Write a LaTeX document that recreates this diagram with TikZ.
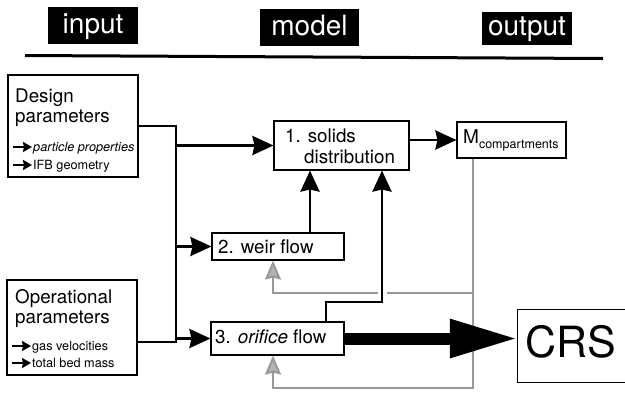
\documentclass[tikz,border=0pt]{standalone}
\usepackage{fontspec}
\setmainfont{TeX Gyre Heros}
\usetikzlibrary{arrows.meta}
\pgfdeclarelayer{bg}
\pgfsetlayers{bg,main}
\tikzset{
  box/.style={draw, line width=1.1pt, inner sep=0pt, fill=white},
  hdr/.style={fill=black, inner sep=0pt},
  hdrtext/.style={text=white, font=\fontsize{28}{30}\selectfont, anchor=base, inner sep=0pt},
  big/.style={font=\fontsize{18.8}{22}\selectfont, anchor=base west, inner sep=0pt},
  small/.style={font=\fontsize{12.7}{15}\selectfont, anchor=base west, inner sep=0pt},
  conn/.style={line width=2.8pt},
  arr/.style={conn, -{Stealth[length=21pt,width=19pt,inset=2pt]}},
  gline/.style={line width=2pt, draw=black!40},
  garr/.style={gline, -{Stealth[length=19pt,width=16pt,inset=2pt,fill=black!30]}},
  bul/.style={line width=2.4pt, -{Stealth[length=9pt,width=10pt,inset=1pt]}}
}
\begin{document}
\begin{tikzpicture}[x=1pt,y=-1pt]
\useasboundingbox (0,0) rectangle (625,392);

% header
\node[hdr, minimum width=90pt, minimum height=37pt] (hin) at (93,25.5) {};
\node[hdrtext] (tin) at (93,33) {input};
\node[hdr, minimum width=99pt, minimum height=37pt] (hmo) at (309.5,27.5) {};
\node[hdrtext] (tmo) at (309.5,35) {model};
\node[hdr, minimum width=90pt, minimum height=33pt] (hou) at (527,28.5) {};
\node[hdrtext] (tou) at (527,35) {output};
\coordinate (la) at (25,55.5);
\coordinate (lb) at (603,58.5);
\draw[line width=3pt] (la) -- (lb);

% boxes
\node[box, minimum width=130pt, minimum height=102pt] (design) at (73,126) {};
\node[box, minimum width=130pt, minimum height=95pt] (oper) at (72,327.5) {};
\node[box, minimum width=135pt, minimum height=49pt] (solids) at (341.5,145.5) {};
\node[box, minimum width=132pt, minimum height=27pt] (weir) at (278,246.5) {};
\node[box, minimum width=133pt, minimum height=33pt] (orf) at (277.5,338.5) {};
\node[box, minimum width=109pt, minimum height=36pt] (mc) at (511.5,140) {};
\node[inner sep=0pt, minimum width=107pt, minimum height=72pt] (crs) at (571.5,346) {};
\draw[line width=1.1pt] (crs.north east) -- (crs.north west) -- (crs.south west) -- (crs.south east);

% helper coordinates
\coordinate (tx) at (176,0);
\coordinate (oe) at ([yshift=-14.5pt]oper.east);
\coordinate (wx) at (310,0);
\coordinate (ox) at (326,0);
\coordinate (sx) at (382,0);
\coordinate (yy) at (0,302);
\coordinate (gx) at (273,0);
\coordinate (gb) at (473,388);
\coordinate (gm) at (473,293);

\begin{pgfonlayer}{bg}
  % gray feedback
  \draw[garr] (mc.south -| gb) -- (gb) -| (orf.south -| gx);
  \draw[garr] (gm) -| (weir.south -| gx);
  % black connectors
  \draw[conn] (design.east) -- (design.east -| tx) -- (tx |- oe) -- (oe);
  \draw[arr] (solids.west -| tx) -- (solids.west);
  \draw[arr] (weir.west -| tx) -- (weir.west);
  \draw[arr] (orf.west -| tx) -- (orf.west);
  \draw[arr] (weir.north -| wx) -- (solids.south -| wx);
  \draw[white, line width=9pt] (ox |- yy) -| (solids.south -| sx);
  \draw[arr] (orf.north -| ox) -- (ox |- yy) -| (solids.south -| sx);
  \draw[arr] (solids.east |- mc.west) -- (mc.west);
  \draw[line width=12pt, -{Triangle[length=68pt,width=36pt]}] (orf.east) -- (orf.east -| crs.west);
\end{pgfonlayer}

% texts
\node[big] (d1) at (15,102) {Design};
\node[big] (d2) at (15,122) {parameters};
\node[small] (d3) at (33,151) {\itshape particle properties};
\node[small] (d4) at (33,169) {IFB geometry};
\node[big] (o1) at (15,303) {Operational};
\node[big] (o2) at (15,323) {parameters};
\node[small] (o3) at (32,350) {gas velocities};
\node[small] (o4) at (32,367) {total bed mass};
\foreach \n in {d3,d4,o3,o4}
  \draw[bul] ([xshift=-20pt,yshift=4pt]\n.base west) -- ([xshift=-1pt,yshift=4pt]\n.base west);

\node[big] (s1) at (285,142) {1. solids};
\node[big] (s2) at (304,163) {distribution};
\node[big] (w1) at (218,253) {2. weir flow};
\node[big] (f1) at (215,343) {3. {\itshape orifice} flow};
\node[big, font=\fontsize{19}{22}\selectfont] (m1) at (463,143) {M\raisebox{-5pt}{\fontsize{12.5}{14}\selectfont compartments}};
\node[anchor=base west, inner sep=0pt, font=\fontsize{43}{45}\selectfont] (c1) at (525,357) {CRS};
\end{tikzpicture}
\end{document}
